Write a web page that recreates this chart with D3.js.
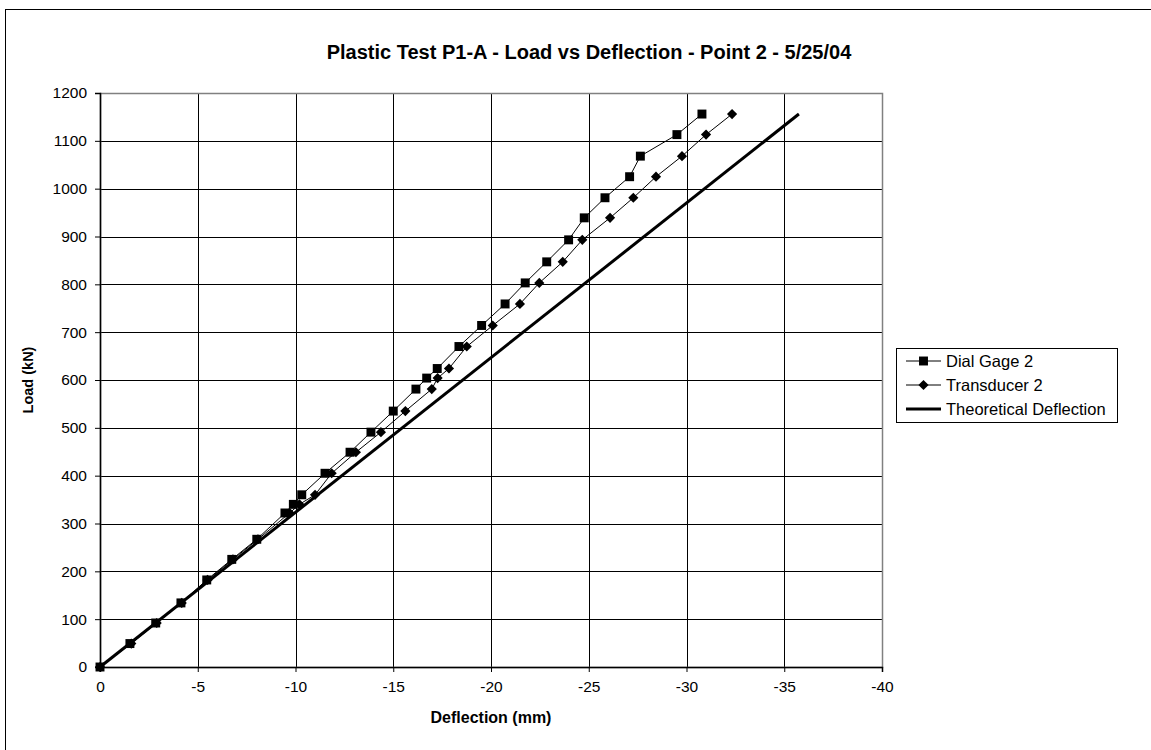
<!DOCTYPE html>
<html>
<head>
<meta charset="utf-8">
<script src="https://cdn.jsdelivr.net/npm/d3@7"></script>
<style>
  body { margin: 0; background: #fff; }
  text { font-family: Arial, "Liberation Sans", sans-serif; fill: #000; }
</style>
</head>
<body>
<div id="chart"></div>
<script>
var svgWidth = 1151;
var svgHeight = 750;
var margin = { top: 93, right: 269, bottom: 83, left: 100 };

var width = svgWidth - margin.left - margin.right;   // 782
var height = svgHeight - margin.top - margin.bottom; // 574

// data
var loads = [0, 49, 92, 134, 182, 225, 267, 322, 340, 360, 405, 449, 491, 535, 581,
             604, 624, 670, 714, 759, 803, 847, 893, 939, 981, 1025, 1068, 1113, 1156];
var dialGage = [0, -1.53, -2.85, -4.14, -5.46, -6.74, -8.02, -9.46, -9.89, -10.32, -11.51,
                -12.79, -13.86, -15.0, -16.16, -16.71, -17.25, -18.36, -19.52, -20.72,
                -21.75, -22.85, -23.97, -24.77, -25.83, -27.09, -27.64, -29.51, -30.79];
var transducer = [0, -1.6, -2.9, -4.18, -5.5, -6.8, -8.08, -9.7, -10.2, -11.0, -11.85,
                  -13.09, -14.37, -15.62, -16.97, -17.27, -17.85, -18.76, -20.09, -21.48,
                  -22.47, -23.67, -24.67, -26.09, -27.28, -28.44, -29.77, -31.0, -32.33];
var theoryLoads = [0, 1156];
var theoryDefl = [0, -35.75];

var xTicks = [0, -5, -10, -15, -20, -25, -30, -35, -40];
var yTicks = [0, 100, 200, 300, 400, 500, 600, 700, 800, 900, 1000, 1100, 1200];
var seriesNames = ["Dial Gage 2", "Transducer 2", "Theoretical Deflection"];

var svg = d3.select("#chart")
    .append("svg")
    .attr("width", svgWidth)
    .attr("height", svgHeight);

// outer chart frame
svg.append("rect")
    .attr("x", 5.5).attr("y", 9.5)
    .attr("width", svgWidth + 20).attr("height", svgHeight + 20)
    .attr("fill", "#fff")
    .attr("stroke", "#000")
    .attr("stroke-width", 1);

var chartGroup = svg.append("g")
    .attr("transform", `translate(${margin.left},${margin.top})`);

var xScale = d3.scaleLinear().domain([0, -40]).range([0, width]);
var yScale = d3.scaleLinear().domain([0, 1200]).range([height, 0]);

// gridlines
chartGroup.append("g")
    .selectAll("line")
    .data(yTicks)
    .enter()
    .append("line")
    .attr("x1", 0).attr("x2", width)
    .attr("y1", d => Math.round(yScale(d)) + 0.5)
    .attr("y2", d => Math.round(yScale(d)) + 0.5)
    .attr("stroke", "#000")
    .attr("stroke-width", 1);

chartGroup.append("g")
    .selectAll("line")
    .data(xTicks)
    .enter()
    .append("line")
    .attr("y1", 0).attr("y2", height)
    .attr("x1", d => Math.round(xScale(d)) + 0.5)
    .attr("x2", d => Math.round(xScale(d)) + 0.5)
    .attr("stroke", "#000")
    .attr("stroke-width", 1);

// plot area border
chartGroup.append("rect")
    .attr("x", 0.5).attr("y", 0.5)
    .attr("width", width).attr("height", height)
    .attr("fill", "none")
    .attr("stroke", "#808080")
    .attr("stroke-width", 1.5);

// axes
var bottomAxis = d3.axisBottom(xScale).tickValues(xTicks).tickSize(5).tickPadding(9)
    .tickFormat(d3.format("d"));
var leftAxis = d3.axisLeft(yScale).tickValues(yTicks).tickSize(5).tickPadding(8)
    .tickFormat(d3.format("d"));

var xAxis = chartGroup.append("g")
    .attr("transform", `translate(0,${height})`)
    .call(bottomAxis);
var yAxis = chartGroup.append("g")
    .call(leftAxis);

[xAxis, yAxis].forEach(function(ax) {
    ax.select(".domain").attr("stroke", "#000").attr("stroke-width", 1.5);
    ax.selectAll(".tick line").attr("stroke", "#000");
    ax.selectAll(".tick text")
        .style("font-family", "Arial, 'Liberation Sans', sans-serif")
        .style("font-size", "15.5px")
        .attr("fill", "#000");
});
xAxis.selectAll(".tick text").text(d => d === 0 ? "0" : "-" + Math.abs(d));

// lines
var line = d3.line()
    .x(d => xScale(d[0]))
    .y(d => yScale(d[1]));

var theoryData = theoryDefl.map((d, i) => [d, theoryLoads[i]]);
var dialData = dialGage.map((d, i) => [d, loads[i]]);
var transData = transducer.map((d, i) => [d, loads[i]]);

chartGroup.append("path")
    .datum(theoryData)
    .attr("d", line)
    .attr("fill", "none")
    .attr("stroke", "#000")
    .attr("stroke-width", 3);

chartGroup.append("path")
    .datum(transData)
    .attr("d", line)
    .attr("fill", "none")
    .attr("stroke", "#000")
    .attr("stroke-width", 1);

chartGroup.append("path")
    .datum(dialData)
    .attr("d", line)
    .attr("fill", "none")
    .attr("stroke", "#000")
    .attr("stroke-width", 1);

var diamond = d3.symbol().type(d3.symbolDiamond2).size(66);
var square = d3.symbol().type(d3.symbolSquare).size(80);

chartGroup.selectAll(".trans-pt")
    .data(transData)
    .enter()
    .append("path")
    .attr("class", "trans-pt")
    .attr("d", diamond)
    .attr("transform", d => `translate(${xScale(d[0])},${yScale(d[1])})`)
    .attr("fill", "#000");

chartGroup.selectAll(".dial-pt")
    .data(dialData)
    .enter()
    .append("path")
    .attr("class", "dial-pt")
    .attr("d", square)
    .attr("transform", d => `translate(${xScale(d[0])},${yScale(d[1])})`)
    .attr("fill", "#000");

// titles
svg.append("text")
    .attr("x", 589)
    .attr("y", 59)
    .attr("text-anchor", "middle")
    .style("font-weight", "bold")
    .style("font-size", "20px")
    .text("Plastic Test P1-A - Load vs Deflection - Point 2 - 5/25/04");

svg.append("text")
    .attr("x", margin.left + width / 2)
    .attr("y", 723)
    .attr("text-anchor", "middle")
    .style("font-weight", "bold")
    .style("font-size", "16px")
    .text("Deflection (mm)");

svg.append("text")
    .attr("transform", "rotate(-90)")
    .attr("x", -380)
    .attr("y", 33)
    .attr("text-anchor", "middle")
    .style("font-weight", "bold")
    .style("font-size", "14.5px")
    .text("Load (kN)");

// legend
var legend = svg.append("g").attr("transform", "translate(896,348)");
legend.append("rect")
    .attr("x", 0.5).attr("y", 0.5)
    .attr("width", 221).attr("height", 74)
    .attr("fill", "#fff")
    .attr("stroke", "#000")
    .attr("stroke-width", 1);

var rows = legend.selectAll(".row")
    .data(seriesNames)
    .enter()
    .append("g")
    .attr("class", "row")
    .attr("transform", (d, i) => `translate(0,${13 + i * 24})`);

rows.append("line")
    .attr("x1", 10).attr("x2", 45)
    .attr("y1", 0).attr("y2", 0)
    .attr("stroke", "#000")
    .attr("stroke-width", (d, i) => i === 2 ? 3 : 1);

rows.filter((d, i) => i === 0).append("path")
    .attr("d", square)
    .attr("transform", "translate(27.5,0)");
rows.filter((d, i) => i === 1).append("path")
    .attr("d", diamond)
    .attr("transform", "translate(27.5,0)");

rows.append("text")
    .attr("x", 50)
    .attr("y", 0)
    .attr("dy", "0.35em")
    .style("font-size", "16.5px")
    .text(d => d);
</script>
</body>
</html>
